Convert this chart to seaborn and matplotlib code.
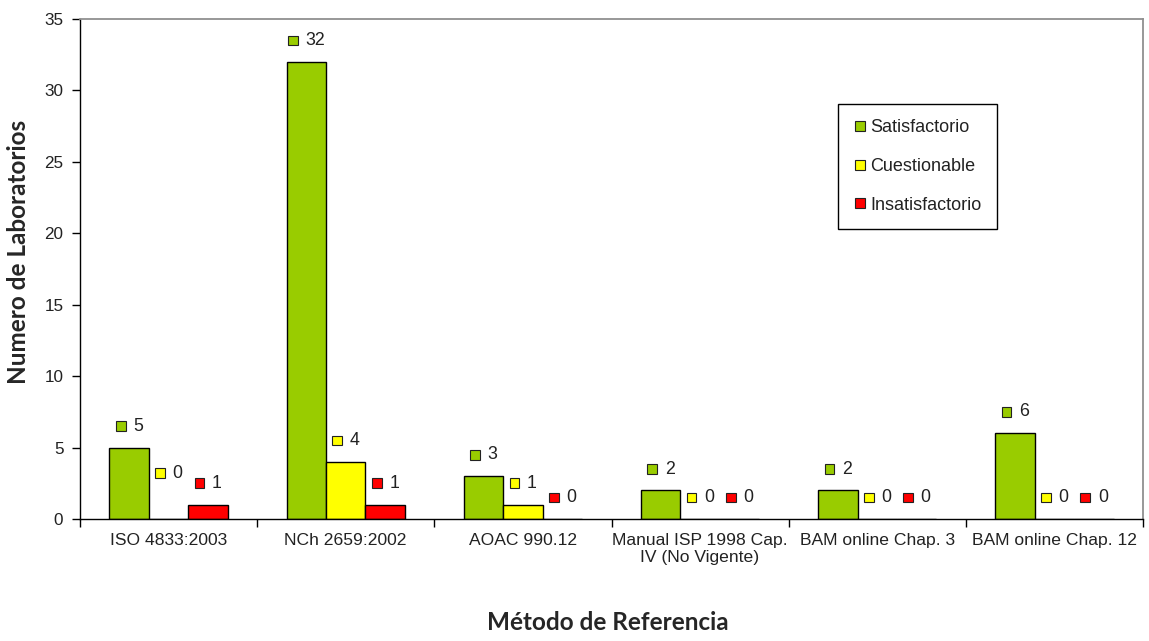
import matplotlib
matplotlib.use("Agg")
import matplotlib.pyplot as plt
import seaborn as sns
import pandas as pd
from matplotlib.lines import Line2D
from matplotlib.patches import Rectangle
from matplotlib.offsetbox import DrawingArea, TextArea, HPacker, AnnotationBbox

# ---- data ----
metodos = ["ISO 4833:2003", "NCh 2659:2002", "AOAC 990.12",
           "Manual ISP 1998 Cap.\nIV (No Vigente)", "BAM online Chap. 3",
           "BAM online Chap. 12"]
estados = ["Satisfactorio", "Cuestionable", "Insatisfactorio"]
satisfactorio = [5, 32, 3, 2, 2, 6]
cuestionable = [0, 4, 1, 0, 0, 0]
insatisfactorio = [1, 1, 0, 0, 0, 0]
colores = ["#99CC00", "#FFFF00", "#FF0000"]
yticks = [0, 5, 10, 15, 20, 25, 30, 35]

series = [satisfactorio, cuestionable, insatisfactorio]
df = pd.DataFrame({
    "metodo": [m for s in series for m in metodos],
    "estado": [e for e, s in zip(estados, series) for _ in s],
    "n": [v for s in series for v in s],
})

sns.set_style("white")
plt.rcParams["font.family"] = ["Liberation Sans", "DejaVu Sans"]

fig = plt.figure(figsize=(11.49, 6.41), dpi=100)
ax = fig.add_axes([80 / 1149, 1 - 519 / 641, 1063 / 1149, 500 / 641])

sns.barplot(data=df, x="metodo", y="n", hue="estado", order=metodos,
            hue_order=estados, palette=colores, saturation=1, width=0.667,
            edgecolor="black", linewidth=1, legend=False, ax=ax)

ax.set_xlim(-0.5, len(metodos) - 0.5)
ax.set_ylim(0, 35)
ax.set_yticks(yticks)
ax.set_yticklabels([str(t) for t in yticks], fontsize=12.3, color="#222222")

# category boundaries as tick marks, labels at centers
ax.set_xticks([i - 0.5 for i in range(len(metodos) + 1)])
ax.set_xticklabels([""] * (len(metodos) + 1))
ax.set_xticks(list(range(len(metodos))), minor=True)
ax.set_xticklabels(metodos, minor=True, fontsize=12.6, linespacing=1.2, color="#222222")
ax.tick_params(axis="x", which="minor", length=0, pad=10)
ax.tick_params(axis="x", which="major", length=6, width=1, color="black", direction="out", bottom=True)
ax.tick_params(axis="y", length=6, width=1, color="black", direction="out", left=True, pad=6)

for side in ["left", "bottom"]:
    ax.spines[side].set_color("black")
    ax.spines[side].set_linewidth(1)
for side in ["top", "right"]:
    ax.spines[side].set_color("#909090")
    ax.spines[side].set_linewidth(1.3)

ax.set_ylabel("Numero de Laboratorios", fontsize=17.5, fontweight="bold",
              family=["Lato", "DejaVu Sans"])
ax.yaxis.set_label_coords(-0.058, 0.534)
ax.yaxis.label.set_va("center")
ax.set_xlabel("Método de Referencia", fontsize=17.5, fontweight="bold",
              family=["Lato", "DejaVu Sans"])
ax.xaxis.set_label_coords(0.497, -0.206)
ax.xaxis.label.set_va("center")

# data labels: colored square + value, centered above each bar
nudge = {(0, 1): 1.7}
for hi, cont in enumerate(ax.containers):
    for ci, bar in enumerate(cont):
        v = bar.get_height()
        xc = bar.get_x() + bar.get_width() / 2
        y = v + 1.5 + nudge.get((ci, hi), 0)
        da = DrawingArea(8, 8, 0, 0)
        da.add_artist(Rectangle((0.5, 0.5), 7, 7, facecolor=colores[hi],
                                edgecolor="#222222", linewidth=0.8))
        ta = TextArea(f"{int(round(v))}", textprops=dict(fontsize=12.8, color="#222222"))
        box = HPacker(children=[da, ta], sep=5, align="center", pad=0)
        ab = AnnotationBbox(box, (xc, y), xycoords="data", frameon=False,
                            box_alignment=(0.5, 0.5), pad=0)
        ax.add_artist(ab)

handles = [Line2D([], [], marker="s", linestyle="none", markerfacecolor=c,
                  markeredgecolor="#222222", markeredgewidth=0.8, markersize=6.5)
           for c in colores]
leg = ax.legend(handles, estados, loc="upper left", bbox_to_anchor=(0.713, 0.83),
                borderaxespad=0, fontsize=13, frameon=True, fancybox=False,
                framealpha=1, edgecolor="black", labelspacing=1.2,
                handlelength=0.7, handletextpad=0.25, borderpad=0.85)
leg.get_frame().set_linewidth(1)
for t in leg.get_texts():
    t.set_color("#222222")

fig.savefig("out.png", dpi=100)
